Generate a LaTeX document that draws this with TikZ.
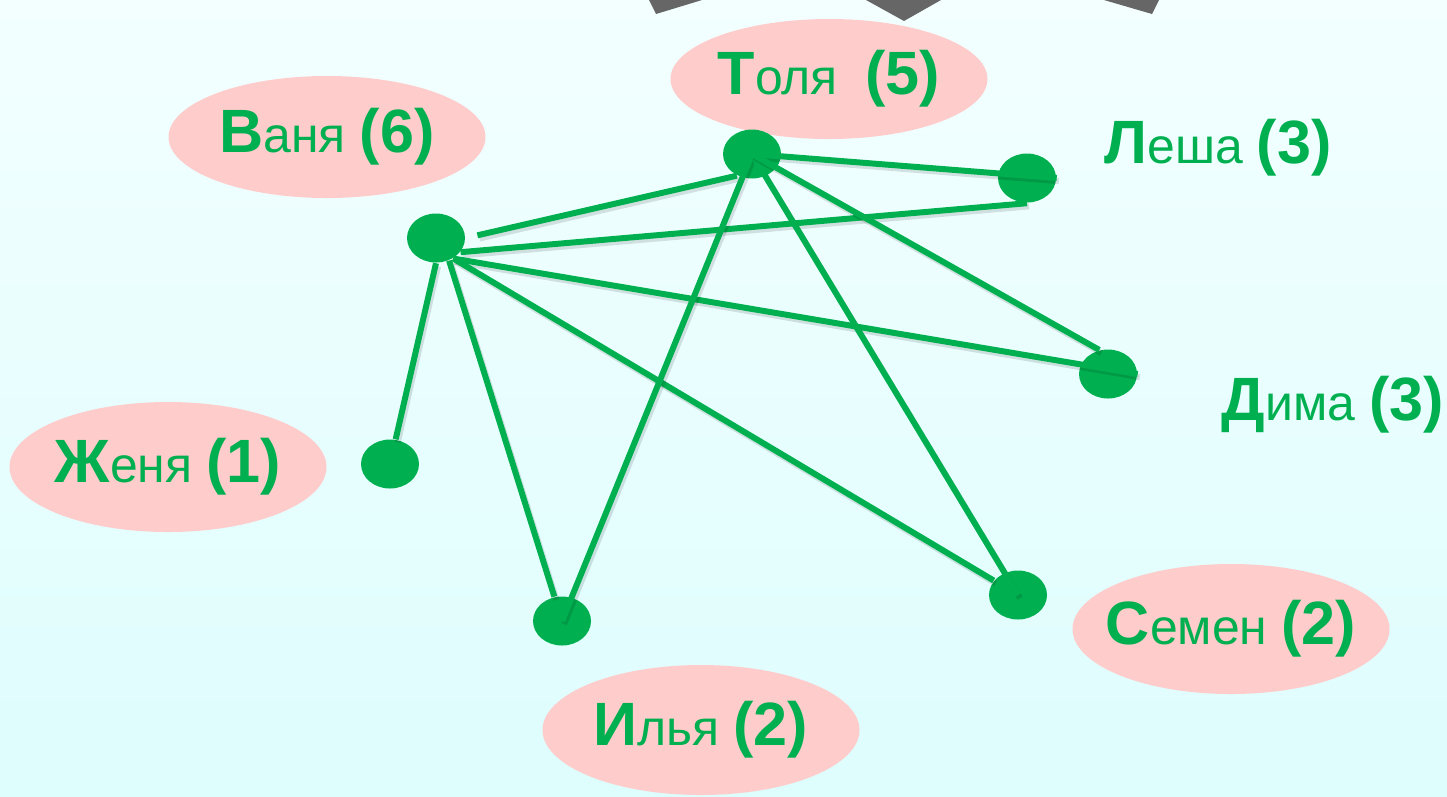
\documentclass[tikz,border=0pt]{standalone}
\usepackage{fontspec}
\setmainfont{Liberation Sans}
\usetikzlibrary{shapes.geometric}

\definecolor{nodegreen}{HTML}{00B050}
\definecolor{namepink}{HTML}{FFCCCC}
\definecolor{bgtop}{HTML}{F3FFFF}
\definecolor{bgbottom}{HTML}{DEFDFD}
\definecolor{arrowgrey}{HTML}{666666}

% big bold initial, small rest, bold count
\newcommand\nm[3]{{\bfseries\fontsize{17.4}{19}\selectfont #1}{\fontsize{14.2}{17}\selectfont #2 }{\bfseries\fontsize{17.4}{19}\selectfont #3}}

\tikzset{
  dot/.style={ellipse, fill=nodegreen, minimum width=0.58cm, minimum height=0.49cm, inner sep=0pt},
  namebox/.style={ellipse, fill=namepink, minimum width=3.17cm, minimum height=1.3cm, inner xsep=-0.25cm, inner ysep=0pt, text=nodegreen},
  namelabel/.style={text=nodegreen, inner sep=0pt},
  link/.style={line width=1.7pt, nodegreen,
    preaction={draw, line width=1.7pt, black, opacity=0.12, transform canvas={shift={(0.6pt,-0.9pt)}}}}
}

\begin{document}
\begin{tikzpicture}

  \useasboundingbox (0,0) rectangle (14.47,-7.96);

  % Background
  \shade[top color=bgtop, bottom color=bgbottom] (0,0) rectangle (14.47,-7.96);

  % Grey shapes cut by the top edge
  \fill[arrowgrey] (6.49,0) -- (6.56,-0.14) -- (7.02,0) -- cycle;
  \fill[arrowgrey] (8.66,0) -- (9.04,-0.21) -- (9.41,0) -- cycle;
  \fill[arrowgrey] (11.04,0) -- (11.52,-0.14) -- (11.59,0) -- cycle;

  % Pink name ellipses
  \node[namebox, minimum height=1.2cm] (tolyaL) at (8.29,-0.79) {\nm{Т}{оля\ }{(5)}};
  \node[namebox, minimum height=1.22cm] (vanyaL) at (3.27,-1.37) {\nm{В}{аня}{(6)}};
  \node[namebox] (zhenyaL) at (1.68,-4.67) {\nm{Ж}{еня}{(1)}};
  \node[namebox] (ilyaL)   at (7.01,-7.30) {\nm{И}{лья}{(2)}};
  \node[namebox] (semenL)  at (12.31,-6.29) {\nm{С}{емен}{(2)}};

  % Names without ellipse
  \node[namelabel] (leshaL) at (12.18,-1.48) {\nm{Л}{еша}{(3)}};
  \node[namelabel] (dimaL)  at (13.33,-4.05) {\nm{Д}{има}{(3)}};

  % Green dots
  \node[dot] (tolya)  at (7.52,-1.54) {};
  \node[dot] (vanya)  at (4.36,-2.38) {};
  \node[dot] (lesha)  at (10.27,-1.78) {};
  \node[dot] (dima)   at (11.08,-3.74) {};
  \node[dot] (zhenya) at (3.90,-4.64) {};
  \node[dot] (ilya)   at (5.62,-6.21) {};
  \node[dot] (semen)  at (10.18,-5.95) {};

  % Links from Vanya
  \draw[link, shorten <=0.12cm] (vanya.east) -- (tolya.235);
  \draw[link] (vanya.-30) -- (lesha.south);
  \draw[link] (vanya.-50) -- (dima.east);
  \draw[link] (vanya.-50) -- (semen);
  \draw[link] (vanya.-60) -- (ilya);
  \draw[link] (vanya.south) -- (zhenya);

  % Links from Tolya
  \draw[link] (tolya.center) -- (lesha.east);
  \draw[link] (tolya.center) -- (ilya.center);
  \draw[link] (tolya.center) -- (semen.center);
  \draw[link] (tolya.center) -- (dima.110);

\end{tikzpicture}
\end{document}
